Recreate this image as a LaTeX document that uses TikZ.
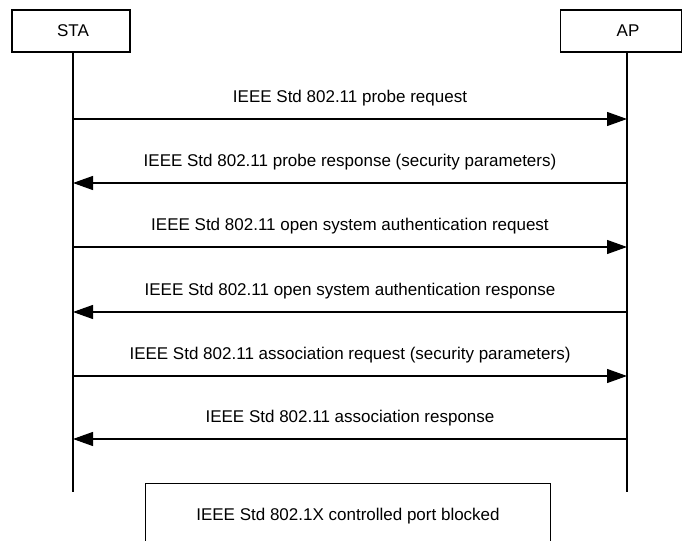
\documentclass[tikz,border=0pt]{standalone}
\usepackage{fontspec}
\setmainfont{Liberation Sans}
\usetikzlibrary{arrows.meta}
\begin{document}
\begin{tikzpicture}[x=0.75pt,y=-0.75pt,
  every node/.style={font=\fontsize{12.75pt}{15pt}\selectfont, inner sep=0pt},
  line/.style={line width=0.9pt, black},
  headbox/.style={draw, line width=0.9pt, minimum width=88.5pt, minimum height=31.5pt},
  msg/.style={line width=0.9pt, -{Triangle[length=15pt,width=10.5pt]}},
  lbl/.style={anchor=base}]
\useasboundingbox (0,0) rectangle (682,541);
% participants
\node[headbox] (sta) at (71,31) {};
\node (statext) at (73,31) {STA};
\draw[line] (560.5,10) rectangle (681.5,52);
\node (ap) at (621,31) {};
\node (aptext) at (628,31) {AP};
% lifelines
\coordinate (s0) at (73,52);  \coordinate (sE) at (73,492);
\coordinate (a0) at (627,52); \coordinate (aE) at (627,492);
\draw[line] (s0) -- (sE);
\draw[line] (a0) -- (aE);
% message rows
\foreach \i/\y in {1/119,2/183,3/247,4/312,5/376,6/439}{
  \coordinate (s\i) at (73,\y);
  \coordinate (a\i) at (627,\y);
}
\draw[msg] (s1) -- (a1) node[lbl, pos=0.5, yshift=12pt] (m1) {IEEE Std 802.11 probe request};
\draw[msg] (a2) -- (s2) node[lbl, pos=0.5, yshift=12pt] (m2) {IEEE Std 802.11 probe response (security parameters)};
\draw[msg] (s3) -- (a3) node[lbl, pos=0.5, yshift=12pt] (m3) {IEEE Std 802.11 open system authentication request};
\draw[msg] (a4) -- (s4) node[lbl, pos=0.5, yshift=12pt] (m4) {IEEE Std 802.11 open system authentication response};
\draw[msg] (s5) -- (a5) node[lbl, pos=0.5, yshift=12pt] (m5) {IEEE Std 802.11 association request (security parameters)};
\draw[msg] (a6) -- (s6) node[lbl, pos=0.5, yshift=12pt] (m6) {IEEE Std 802.11 association response};
% state box at the bottom (runs past the lower edge)
\draw[line] (145.5,545) -- (145.5,483.5) -- (550.5,483.5) -- (550.5,545);
\node (blocked) at (348,516) {IEEE Std 802.1X controlled port blocked};
\end{tikzpicture}
\end{document}
